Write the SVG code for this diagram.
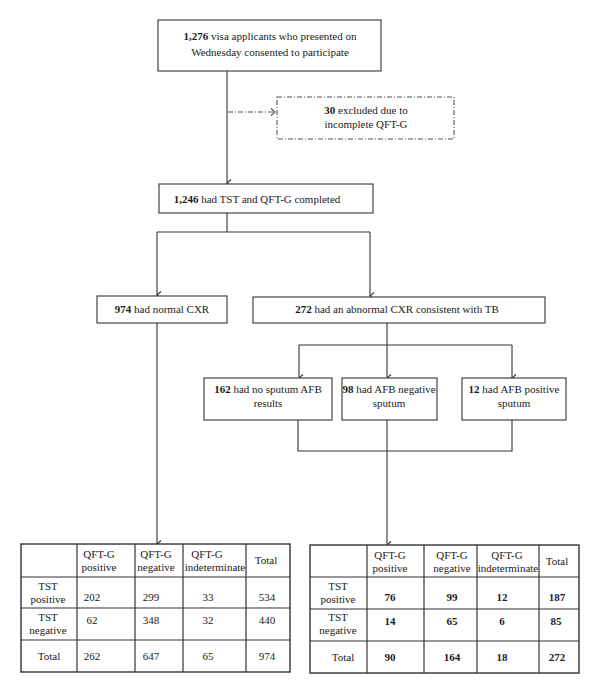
<svg xmlns="http://www.w3.org/2000/svg" width="600" height="693" viewBox="0 0 600 693">
<style>
.box{fill:#fff;stroke:#333;stroke-width:1.1}
.dbox{fill:#fff;stroke:#555;stroke-width:1.1;stroke-dasharray:5 2 1 2}
.ln{fill:none;stroke:#333;stroke-width:1.1}
.dl{fill:none;stroke:#555;stroke-width:1.1;stroke-dasharray:5 2 1 2}
.tb{fill:#fff;stroke:#333;stroke-width:1.4}
.tl{stroke:#333;stroke-width:1.2}
text{font-family:"Liberation Serif","Times New Roman",serif;font-size:11px;fill:#1a1a1a;text-anchor:middle}
.b{font-weight:bold}
</style>
<defs>
<marker id="ah" markerWidth="10" markerHeight="10" refX="5" refY="8" orient="auto-start-reverse" markerUnits="userSpaceOnUse" viewBox="0 0 10 10">
<path d="M1.5,4 L5,8 L8.5,4" fill="none" stroke="#333" stroke-width="1.1"/>
</marker>
<marker id="ahr" markerWidth="10" markerHeight="10" refX="8" refY="5" orient="0" markerUnits="userSpaceOnUse" viewBox="0 0 10 10">
<path d="M4,1.5 L8,5 L4,8.5" fill="none" stroke="#555" stroke-width="1.1"/>
</marker>
</defs>
<g id="connectors">
<path class="ln" d="M227,71 V183" marker-end="url(#ah)"/>
<path class="dl" d="M228,112 H275" marker-end="url(#ahr)"/>
<path class="ln" d="M227,213 V232"/>
<path class="ln" d="M157,232 H370"/>
<path class="ln" d="M157,232 V295" marker-end="url(#ah)"/>
<path class="ln" d="M370,232 V296" marker-end="url(#ah)"/>
<path class="ln" d="M387,323 V345"/>
<path class="ln" d="M299,345 H512"/>
<path class="ln" d="M299,345 V378" marker-end="url(#ah)"/>
<path class="ln" d="M387,345 V378" marker-end="url(#ah)"/>
<path class="ln" d="M512,345 V378" marker-end="url(#ah)"/>
<path class="ln" d="M157,323 V544" marker-end="url(#ah)"/>
<path class="ln" d="M298,420 V451 H512 V420"/>
<path class="ln" d="M387,420 V451"/>
<path class="ln" d="M387,451 V545" marker-end="url(#ah)"/>
</g>
<g id="n-consented">
<rect class="box" x="158" y="20" width="223" height="51"/>
<text x="270" y="40"><tspan class="b">1,276</tspan> visa applicants  who presented on</text>
<text x="270" y="56">Wednesday consented to participate</text>
</g>
<g id="n-excluded">
<rect class="dbox" x="277" y="97" width="177" height="42"/>
<text x="366" y="114"><tspan class="b">30</tspan> excluded due to</text>
<text x="366" y="128">incomplete QFT-G</text>
</g>
<g id="n-completed">
<rect class="box" x="159" y="184" width="214" height="29"/>
<text x="257" y="203"><tspan class="b">1,246</tspan> had TST and QFT-G completed</text>
</g>
<g id="n-normal">
<rect class="box" x="97" y="296" width="130" height="27"/>
<text x="162" y="313"><tspan class="b">974</tspan> had normal CXR</text>
</g>
<g id="n-abnormal">
<rect class="box" x="253" y="297" width="292" height="26"/>
<text x="397" y="313"><tspan class="b">272</tspan> had an abnormal CXR consistent with TB</text>
</g>
<g id="n-nosputum">
<rect class="box" x="204" y="378" width="128" height="42"/>
<text x="268" y="393"><tspan class="b">162</tspan> had no sputum AFB</text>
<text x="268" y="407">results</text>
</g>
<g id="n-afbneg">
<rect class="box" x="342" y="378" width="95" height="42"/>
<text x="389" y="393"><tspan class="b">98</tspan> had AFB negative</text>
<text x="389" y="407">sputum</text>
</g>
<g id="n-afbpos">
<rect class="box" x="462" y="378" width="104" height="42"/>
<text x="514" y="393"><tspan class="b">12</tspan> had AFB positive</text>
<text x="514" y="407">sputum</text>
</g>
<g id="t-normal">
<rect class="tb" x="21" y="544" width="269" height="128"/>
<line class="tl" x1="77" y1="544" x2="77" y2="672"/>
<line class="tl" x1="135" y1="544" x2="135" y2="672"/>
<line class="tl" x1="183" y1="544" x2="183" y2="672"/>
<line class="tl" x1="246" y1="544" x2="246" y2="672"/>
<line class="tl" x1="21" y1="577" x2="290" y2="577"/>
<line class="tl" x1="21" y1="608" x2="290" y2="608"/>
<line class="tl" x1="21" y1="640" x2="290" y2="640"/>
<text x="99" y="558">QFT-G</text><text x="99" y="571">positive</text>
<text x="156" y="558">QFT-G</text><text x="156" y="571">negative</text>
<text x="207" y="558">QFT-G</text><text x="215" y="571">indeterminate</text>
<text x="266" y="564">Total</text>
<text x="48" y="590">TST</text><text x="48" y="603">positive</text>
<text x="48" y="621">TST</text><text x="48" y="634">negative</text>
<text x="49" y="660">Total</text>
<text x="92" y="601">202</text><text x="151" y="601">299</text><text x="208" y="601">33</text><text x="267" y="601">534</text>
<text x="92" y="624">62</text><text x="151" y="624">348</text><text x="208" y="624">32</text><text x="267" y="624">440</text>
<text x="92" y="660">262</text><text x="151" y="660">647</text><text x="208" y="660">65</text><text x="267" y="660">974</text>
</g>
<g id="t-abnormal">
<rect class="tb" x="310" y="545" width="269" height="128"/>
<line class="tl" x1="367" y1="545" x2="367" y2="673"/>
<line class="tl" x1="424" y1="545" x2="424" y2="673"/>
<line class="tl" x1="477" y1="545" x2="477" y2="673"/>
<line class="tl" x1="539" y1="545" x2="539" y2="673"/>
<line class="tl" x1="310" y1="577" x2="579" y2="577"/>
<line class="tl" x1="310" y1="609" x2="579" y2="609"/>
<line class="tl" x1="310" y1="641" x2="579" y2="641"/>
<text x="390" y="559">QFT-G</text><text x="390" y="572">positive</text>
<text x="452" y="559">QFT-G</text><text x="452" y="572">negative</text>
<text x="507" y="559">QFT-G</text><text x="508" y="572">indeterminate</text>
<text x="557" y="565">Total</text>
<text x="338" y="590">TST</text><text x="338" y="603">positive</text>
<text x="338" y="621">TST</text><text x="338" y="634">negative</text>
<text x="343" y="661">Total</text>
<text class="b" x="390" y="601">76</text><text class="b" x="452" y="601">99</text><text class="b" x="502" y="601">12</text><text class="b" x="557" y="601">187</text>
<text class="b" x="390" y="625">14</text><text class="b" x="452" y="625">65</text><text class="b" x="502" y="625">6</text><text class="b" x="556" y="625">85</text>
<text class="b" x="390" y="661">90</text><text class="b" x="452" y="661">164</text><text class="b" x="502" y="661">18</text><text class="b" x="557" y="661">272</text>
</g>
</svg>
